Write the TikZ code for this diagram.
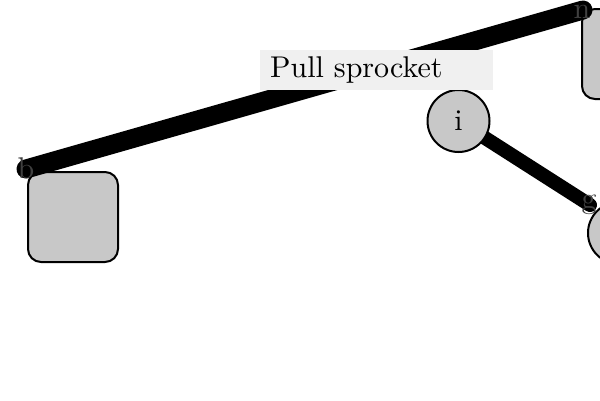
\documentclass[tikz,border=0pt]{standalone}
\usetikzlibrary{calc}
\definecolor{partgray}{HTML}{C8C8C8}
\definecolor{tagbg}{HTML}{F0F0F0}
\newcommand{\bigtext}[1]{\scalebox{3.0}{#1}}
\tikzset{
  part/.style={draw=black, line width=2pt, fill=partgray, rounded corners=13pt,
    minimum width=90pt, minimum height=90pt, inner sep=0pt},
  hub/.style={circle, draw=black, line width=2pt, fill=partgray,
    minimum size=62pt, inner sep=0pt},
  pin/.style={text=black!75, inner sep=0pt},
  belt/.style={line width=19pt, line cap=round},
  tag/.style={fill=tagbg, text width=213pt, align=left, inner xsep=10pt,
    inner ysep=0pt, minimum height=40pt}
}

\begin{document}
\begin{tikzpicture}[x=1pt,y=-1pt,font=\fontsize{10}{12}\selectfont]
\useasboundingbox (0,0) rectangle (600,400);
\def\B{19};
\def\G{14};

% ends of the belts
\coordinate (b) at (26,169);
\coordinate (n) at (583,10);
\coordinate (g) at (590,205);
\coordinate (hubc) at (458.5,121);

\node[part, anchor=north west] (left part) at (27,171) {};
\node[part, anchor=north west] (top part) at (581,8) {};
\node[hub] (wheel) at (619,233) {};

\draw [belt, line width=\B pt] (b) -- (n);
\draw [belt, line width=\G pt] (hubc) -- (g);

\node[hub] (hub) at (hubc) {\bigtext{i}};
\node[tag, anchor=north west] (pull) at (260,50) {\bigtext{Pull sprocket}};

\node[pin] (label b) at (26,168) {\bigtext{b}};
\node[pin] (label n) at (582,12) {\bigtext{n}};
\node[pin] (label g) at (589,205) {\bigtext{g}};

\end{tikzpicture}
\end{document}
